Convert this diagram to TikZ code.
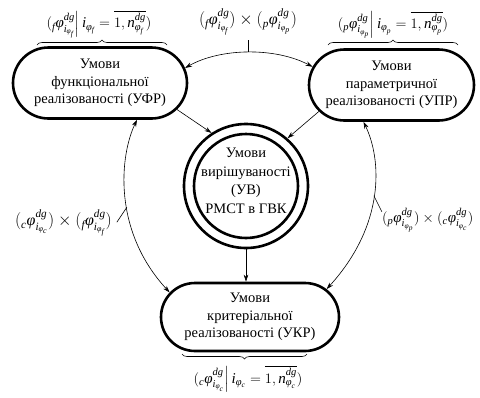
\documentclass[tikz,border=0pt]{standalone}
\usepackage{amsmath}
\usepackage{fontspec}
\setmainfont{Liberation Serif}
\usetikzlibrary{shapes.misc,shapes.geometric,arrows.meta,decorations.pathreplacing,calc}
\newcommand\vph{\text{\itshape φ}}
\newcommand\itx[1]{\text{\itshape #1}}
\newcommand\phsub[1]{\vph_{\itx{#1}}}
\newcommand\setlab[1]{$({}_{\itx{#1}}\vph^{\itx{dg}}_{\itx{i}_{\phsub{#1}}}\Big|\,\itx{i}_{\phsub{#1}}=\overline{1,\itx{n}^{\itx{dg}}_{\phsub{#1}}})$}
\newcommand\prodlab[2]{$({}_{\itx{#1}}\vph^{\itx{dg}}_{\itx{i}_{\phsub{#1}}})\times({}_{\itx{#2}}\vph^{\itx{dg}}_{\itx{i}_{\phsub{#2}}})$}
\begin{document}
\begin{tikzpicture}[x=1pt,y=-1pt,
  box/.style={rounded rectangle, draw, line width=2.6pt, minimum height=71pt,
    align=center, font=\fontsize{14.5}{17.5}\selectfont, inner sep=1pt},
  ring/.style={circle, draw, line width=2.6pt, inner sep=0pt},
  lab/.style={font=\fontsize{15}{15}\selectfont, inner sep=1pt},
  plab/.style={font=\fontsize{16}{16}\selectfont, inner sep=1pt},
  ctext/.style={align=center, font=\fontsize{14.5}{18.5}\selectfont, inner sep=0pt},
  arr/.style={-{Stealth[length=7pt,width=4.5pt]}, line width=0.6pt},
  darr/.style={{Stealth[length=7pt,width=4.5pt]}-{Stealth[length=7pt,width=4.5pt]}, line width=0.6pt},
  brc/.style={decorate, decoration={brace, amplitude=5pt}, line width=0.6pt},
  tick/.style={line width=0.6pt}]
\useasboundingbox (0,0) rectangle (480,397);
% nodes
\node[box, minimum width=176pt] (ufr) at (100,83) {Умови\\функціональної\\реалізованості (УФР)};
\node[box, minimum width=167pt] (upr) at (391.5,85) {Умови\\параметричної\\реалізованості (УПР)};
\node[box, minimum width=180pt, minimum height=68pt] (ukr) at (250,317) {Умови\\критеріальної\\реалізованості (УКР)};
\node[ring, minimum size=124pt] (uv) at (246,186) {};
\node[ring, minimum size=104pt] (uvi) at (246,186) {};
\node[ctext] (uvt) at (246,181) {Умови\\вирішуваності\\(УВ)\\РМСТ в ГВК};
% labels
\node[lab] (lf) at (99,24.5) {\setlab{f}};
\node[lab] (lp) at (393,24.5) {\setlab{p}};
\node[lab] (lc) at (248,379) {\setlab{c}};
\node[plab] (lfp) at (248,22) {\prodlab{f}{p}};
\node[plab, anchor=east] (lcf) at (113,223) {\prodlab{c}{f}};
\node[lab, anchor=west] (lpc) at (381,220) {\prodlab{p}{c}};
% braces
\coordinate (bf1) at (37,45); \coordinate (bf2) at (167,45);
\coordinate (bp1) at (328,45); \coordinate (bp2) at (458,45);
\coordinate (bc1) at (307,354); \coordinate (bc2) at (182,354);
\draw[brc] (bf1) -- (bf2);
\draw[brc] (bp1) -- (bp2);
\draw[brc] (bc1) -- (bc2);
% straight arrows
\draw[arr] (ufr.-19) -- (uv.123);
\draw[arr] (upr.200) -- (uv.49);
\draw[arr] (uv.south) -- (uv.south |- ukr.north);
% arcs
\draw[darr] (ufr.10) .. controls (220,48) and (275,47) .. coordinate[pos=0.5] (tm) (upr.167);
\draw[darr] ($(ufr.south)+(37,0)$) .. controls (120,155) and (112,230) .. coordinate[pos=0.56] (lt) (ukr.163);
\draw[darr] ($(upr.south)+(-28,0)$) .. controls (382,160) and (385,225) .. coordinate[pos=0.5] (rt) (ukr.20);
% ticks
\draw[tick] (tm) -- ++(0,-12);
\draw[tick] (lt) -- ++(-10,15);
\draw[tick] (rt) -- ++(8,16);
\end{tikzpicture}
\end{document}
